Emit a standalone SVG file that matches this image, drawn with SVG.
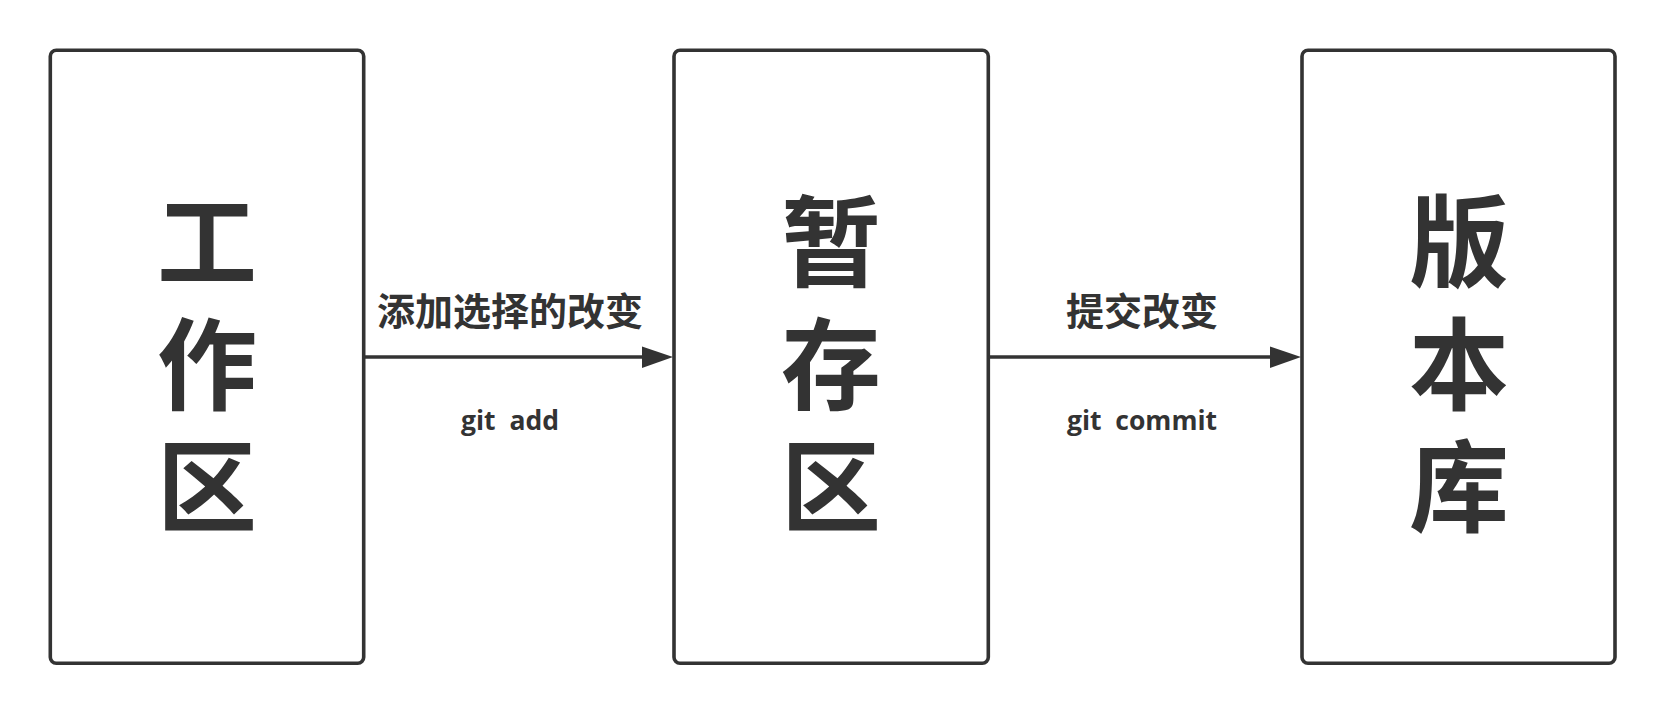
<svg xmlns="http://www.w3.org/2000/svg" width="1666" height="714" viewBox="0 0 1666 714">
<style>
.box{fill:#fff;stroke:#333;stroke-width:3.6}
.big{font-family:"Noto Sans CJK SC","Noto Sans CJK JP",sans-serif;font-weight:700;font-size:100px;fill:#333;text-anchor:middle}
.lbl{font-family:"Noto Sans CJK SC","Noto Sans CJK JP",sans-serif;font-weight:700;font-size:38px;fill:#333;text-anchor:middle}
.cmd{font-family:"Open Sans","Noto Sans",sans-serif;font-weight:700;font-size:26.5px;fill:#333;text-anchor:middle;white-space:pre}
.ln{stroke:#333;stroke-width:3.6;fill:none}
.ah{fill:#333}
</style>
<rect width="1666" height="714" fill="#fff"/>
<g id="workspace">
<rect class="box" x="50.3" y="50.3" width="313.4" height="613" rx="6"/>
<text class="big" x="207" y="279">工</text>
<text class="big" x="207" y="402">作</text>
<text class="big" x="207" y="524">区</text>
</g>
<g id="staging">
<rect class="box" x="674" y="50.3" width="314.3" height="613" rx="6"/>
<text class="big" x="831" y="279">暂</text>
<text class="big" x="831" y="402">存</text>
<text class="big" x="831" y="524">区</text>
</g>
<g id="repository">
<rect class="box" x="1302" y="50.3" width="313" height="613" rx="6"/>
<text class="big" x="1459" y="279">版</text>
<text class="big" x="1459" y="402">本</text>
<text class="big" x="1459" y="524">库</text>
</g>
<g id="connectors">
<line class="ln" x1="364" y1="357" x2="644" y2="357"/>
<polygon class="ah" points="642,346.5 673,357 642,368"/>
<text class="lbl" x="510" y="325">添加选择的改变</text>
<text class="cmd" x="510" y="430">git  add</text>
<line class="ln" x1="988" y1="357" x2="1272" y2="357"/>
<polygon class="ah" points="1270,346.5 1301,357 1270,368"/>
<text class="lbl" x="1142" y="325">提交改变</text>
<text class="cmd" x="1142" y="430">git  commit</text>
</g>
</svg>
